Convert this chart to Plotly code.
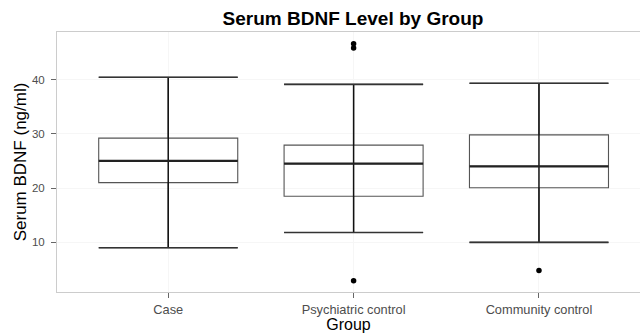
import plotly.graph_objects as go

# ---- data ----
groups = ["Case", "Psychiatric control", "Community control"]
q1 = [21.0, 18.5, 20.05]
median = [25.0, 24.5, 24.0]
q3 = [29.2, 27.9, 29.8]
lower_whisker = [9.0, 11.8, 10.0]
upper_whisker = [40.4, 39.1, 39.3]
outlier_group = ["Psychiatric control", "Psychiatric control", "Psychiatric control", "Community control"]
outlier_value = [45.8, 46.6, 2.9, 4.8]

y_ticks = [10, 20, 30, 40]

# ---- layout constants ----
pos = [i + 1 for i in range(len(groups))]
pos_of = dict(zip(groups, pos))
box_w = 0.75
half = box_w / 2
FONT = "Liberation Sans, Arial, sans-serif"

fig = go.Figure()

# box outline (with whiskers + caps as wide as the box)
fig.add_trace(go.Box(
    x=pos, q1=q1, median=median, q3=q3,
    lowerfence=lower_whisker, upperfence=upper_whisker,
    width=box_w, whiskerwidth=1,
    line=dict(color="#555555", width=1.1),
    fillcolor="rgba(255,255,255,0)",
    boxpoints=False, showlegend=False, hoverinfo="skip",
))

# vertical whisker line running through the box (errorbar style)
wx, wy = [], []
for p, lo, hi in zip(pos, lower_whisker, upper_whisker):
    wx += [p, p, None]
    wy += [lo, hi, None]
fig.add_trace(go.Scatter(x=wx, y=wy, mode="lines",
                         line=dict(color="#111111", width=1.5),
                         showlegend=False, hoverinfo="skip"))

# caps
cx, cy = [], []
for p, lo, hi in zip(pos, lower_whisker, upper_whisker):
    cx += [p - half, p + half, None, p - half, p + half, None]
    cy += [lo, lo, None, hi, hi, None]
fig.add_trace(go.Scatter(x=cx, y=cy, mode="lines",
                         line=dict(color="#333333", width=1.6),
                         showlegend=False, hoverinfo="skip"))

# thick median
mx, my = [], []
for p, m in zip(pos, median):
    mx += [p - half, p + half, None]
    my += [m, m, None]
fig.add_trace(go.Scatter(x=mx, y=my, mode="lines",
                         line=dict(color="#222222", width=2.2),
                         showlegend=False, hoverinfo="skip"))

# outliers
fig.add_trace(go.Scatter(
    x=[pos_of[g] for g in outlier_group], y=outlier_value, mode="markers",
    marker=dict(color="black", size=5.5),
    showlegend=False, hoverinfo="skip"))

fig.update_layout(
    width=640, height=333,
    margin=dict(l=57, r=0, t=32, b=41, autoexpand=False),
    paper_bgcolor="white", plot_bgcolor="white",
    font=dict(family=FONT, color="#4d4d4d"),
    title=dict(text="<b>Serum BDNF Level by Group</b>",
               x=353 / 640, xref="container", xanchor="center",
               y=1 - 18.5 / 333, yref="container", yanchor="middle",
               font=dict(size=19, color="black", family=FONT)),
    xaxis=dict(
        range=[0.4, 3.545], tickmode="array", tickvals=pos, ticktext=groups,
        showline=True, linecolor="#cccccc", linewidth=1, mirror=True,
        ticks="outside", ticklen=5, tickcolor="#666666", tickwidth=1,
        ticklabelstandoff=1,
        showgrid=True, gridcolor="#f6f6f6", zeroline=False, automargin=False,
        tickfont=dict(size=12.8, color="#4d4d4d"),
        title=dict(text="Group", font=dict(size=16, color="black"), standoff=1),
    ),
    yaxis=dict(
        range=[0.85, 48.75], tickmode="array", tickvals=y_ticks,
        showline=True, linecolor="#cccccc", linewidth=1,
        ticks="outside", ticklen=5, tickcolor="#666666", tickwidth=1,
        ticklabelstandoff=4,
        showgrid=True, gridcolor="#f6f6f6", zeroline=False, automargin=False,
        tickfont=dict(size=11.5, color="#4d4d4d"),
        title=dict(text="Serum BDNF (ng/ml)", font=dict(size=17, color="black"), standoff=0),
    ),
)

fig.write_html("out.html", config={"displayModeBar": False},
               post_script="document.body.style.margin='0';")
